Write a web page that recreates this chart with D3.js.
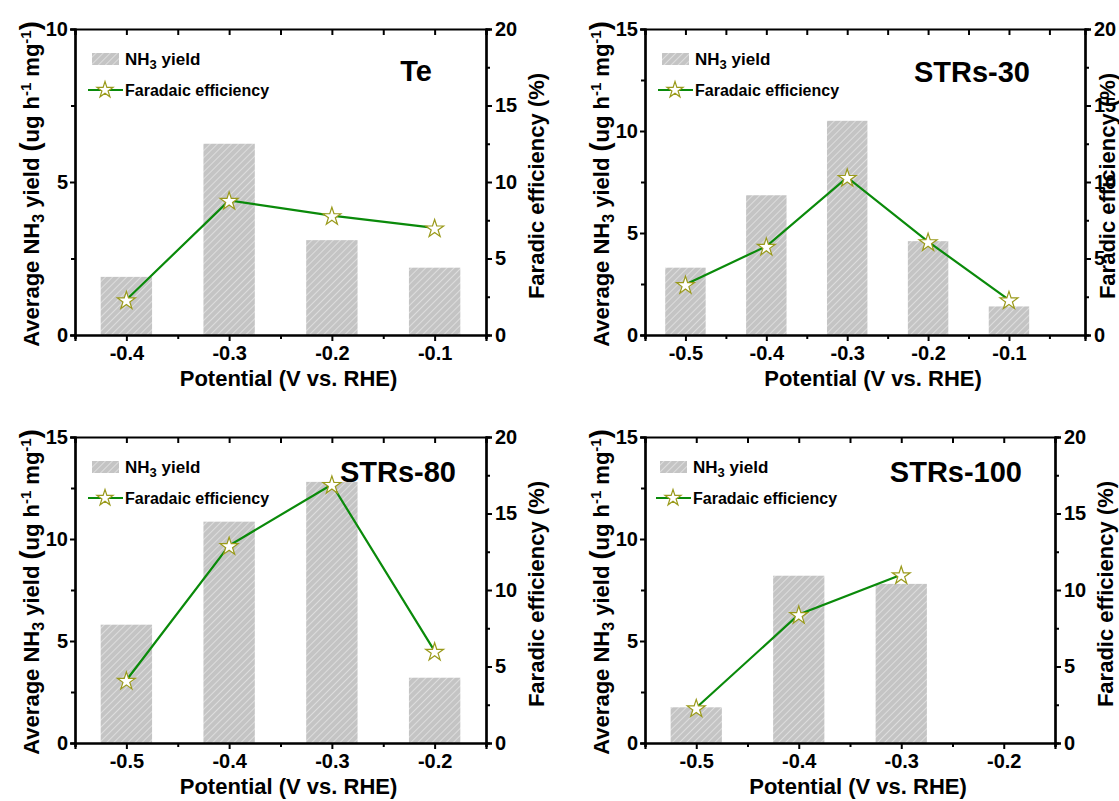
<!DOCTYPE html>
<html>
<head>
<meta charset="utf-8">
<script src="https://cdn.jsdelivr.net/npm/d3@7"></script>
<style>
  body { margin: 0; background: #fff; }
  text { font-family: "Liberation Sans", Arial, sans-serif; font-weight: bold; fill: #000; }
</style>
</head>
<body>
<div id="chart"></div>
<script>
var width = 1119,
    height = 801;

// potentials (V vs. RHE) and values per sample
var teX = [-0.4, -0.3, -0.2, -0.1];
var teYield = [1.9, 6.25, 3.1, 2.2];
var teFE = [2.3, 8.8, 7.8, 7.0];

var s30X = [-0.5, -0.4, -0.3, -0.2, -0.1];
var s30Yield = [3.3, 6.85, 10.5, 4.6, 1.4];
var s30FE = [3.3, 5.8, 10.3, 6.1, 2.3];

var s80X = [-0.5, -0.4, -0.3, -0.2];
var s80Yield = [5.8, 10.85, 12.8, 3.2];
var s80FE = [4.1, 12.9, 16.9, 6.0];

var s100X = [-0.5, -0.4, -0.3];
var s100Yield = [1.75, 8.2, 7.8];
var s100FE = [2.3, 8.4, 11.0];

var teTicks = ["-0.4", "-0.3", "-0.2", "-0.1"];
var s30Ticks = ["-0.5", "-0.4", "-0.3", "-0.2", "-0.1"];
var s80Ticks = ["-0.5", "-0.4", "-0.3", "-0.2"];
var s100Ticks = ["-0.5", "-0.4", "-0.3", "-0.2"];

var panels = [
  {name: "Te", x: teX, yld: teYield, fe: teFE, ticks: teTicks, xDomain: [-0.45, -0.05], yMax: 10, yTicks: [0, 5, 10],
   left: 75, right: 486, top: 29, bottom: 335, titleX: 432, titleY: 81, legX: 92, rTitleX: 544},
  {name: "STRs-30", x: s30X, yld: s30Yield, fe: s30FE, ticks: s30Ticks, xDomain: [-0.55, -0.006], yMax: 15, yTicks: [0, 5, 10, 15],
   left: 645, right: 1085, top: 29, bottom: 335, titleX: 1030, titleY: 82, legX: 662, rTitleX: 1115},
  {name: "STRs-80", x: s80X, yld: s80Yield, fe: s80FE, ticks: s80Ticks, xDomain: [-0.55, -0.15], yMax: 15, yTicks: [0, 5, 10, 15],
   left: 75, right: 486, top: 437, bottom: 743, titleX: 456, titleY: 482, legX: 92, rTitleX: 544},
  {name: "STRs-100", x: s100X, yld: s100Yield, fe: s100FE, ticks: s100Ticks, xDomain: [-0.55, -0.15], yMax: 15, yTicks: [0, 5, 10, 15],
   left: 645, right: 1055, top: 437, bottom: 743, titleX: 1022, titleY: 482, legX: 660, rTitleX: 1113}
];

var svg = d3.select("#chart").append("svg")
    .attr("width", width)
    .attr("height", height);

// hatched grey fill for the bars
var pat = svg.append("defs").append("pattern")
    .attr("id", "hatch")
    .attr("patternUnits", "userSpaceOnUse")
    .attr("width", 5).attr("height", 5)
    .attr("patternTransform", "rotate(45)");
pat.append("rect").attr("width", 5).attr("height", 5).attr("fill", "#c4c4c4");
pat.append("line").attr("x1", 0).attr("y1", 0).attr("x2", 0).attr("y2", 5)
    .attr("stroke", "#efefef").attr("stroke-width", 1.2);

var star = d3.symbol().type(d3.symbolStar).size(100);
var legStar = d3.symbol().type(d3.symbolStar).size(80);

panels.forEach(function(p) {
  var g = svg.append("g");
  var x = d3.scaleLinear().domain(p.xDomain).range([p.left, p.right]);
  var y = d3.scaleLinear().domain([0, p.yMax]).range([p.bottom, p.top]);
  var y2 = d3.scaleLinear().domain([0, 20]).range([p.bottom, p.top]);
  var bw = x(0.05) - x(0);
  var majors = p.ticks.map(Number);
  var minors = d3.range(Math.round(p.xDomain[0] * 100), Math.round(p.xDomain[1] * 100) + 1, 5)
      .map(function(d) { return d / 100; })
      .filter(function(d) { return majors.indexOf(d) < 0 && majors.indexOf(+d.toFixed(2)) < 0; });

  // bars
  g.selectAll("rect.bar").data(p.yld).enter().append("rect")
      .attr("x", function(d, i) { return x(p.x[i]) - bw / 2; })
      .attr("y", function(d) { return y(d); })
      .attr("width", bw)
      .attr("height", function(d) { return p.bottom - y(d); })
      .attr("fill", "url(#hatch)");

  // FE line + stars
  var line = d3.line().x(function(d, i) { return x(p.x[i]); }).y(function(d) { return y2(d); });
  g.append("path").datum(p.fe).attr("d", line)
      .attr("fill", "none").attr("stroke", "#0a8a0a").attr("stroke-width", 2.2);
  g.selectAll("path.star").data(p.fe).enter().append("path")
      .attr("d", star)
      .attr("transform", function(d, i) { return "translate(" + x(p.x[i]) + "," + (y2(d) + 1) + ")"; })
      .attr("fill", "#fff").attr("stroke", "#9a9a1a").attr("stroke-width", 1.2);

  // axes
  var bottomAxis = d3.axisBottom(x).tickValues(majors).tickSize(6).tickPadding(5)
      .tickFormat(function(d, i) { return p.ticks[i]; });
  var ga = g.append("g").attr("transform", "translate(0," + p.bottom + ")").call(bottomAxis);
  ga.append("g").call(d3.axisBottom(x).tickValues(minors).tickSize(4).tickFormat(""));

  var ta = g.append("g").attr("transform", "translate(0," + p.top + ")");
  ta.call(d3.axisBottom(x).tickValues(majors.concat(minors)).tickSize(6).tickFormat(""));

  var la = g.append("g").attr("transform", "translate(" + p.left + ",0)")
      .call(d3.axisLeft(y).tickValues(p.yTicks).tickSize(5).tickPadding(2).tickFormat(d3.format("d")));
  la.append("g").call(d3.axisLeft(y).tickValues(p.yTicks.slice(1).map(function(d) { return d - 2.5; })).tickSize(4).tickFormat(""));

  var ra = g.append("g").attr("transform", "translate(" + p.right + ",0)")
      .call(d3.axisRight(y2).tickValues([0, 5, 10, 15, 20]).tickSize(6).tickPadding(3).tickFormat(d3.format("d")));
  ra.append("g").call(d3.axisRight(y2).tickValues([2.5, 7.5, 12.5, 17.5]).tickSize(4).tickFormat(""));

  g.selectAll(".domain").attr("stroke", "#000").attr("stroke-width", 2.2);
  g.selectAll(".tick line").attr("stroke", "#000").attr("stroke-width", 2);
  g.selectAll(".tick text").style("font-size", "20px").style("font-family", "Liberation Sans, Arial").style("font-weight", "bold");

  // axis titles
  g.append("text")
      .attr("x", (p.left + p.right) / 2 + 8).attr("y", p.bottom + 51)
      .attr("text-anchor", "middle").style("font-size", "22px")
      .text("Potential (V vs. RHE)");

  var yl = g.append("text")
      .attr("transform", "translate(" + (p.left - 36) + "," + ((p.top + p.bottom) / 2 + 2) + ") rotate(-90)")
      .attr("text-anchor", "middle").style("font-size", "22px");
  yl.append("tspan").text("Average NH");
  yl.append("tspan").attr("dy", 5).style("font-size", "16px").text("3");
  yl.append("tspan").attr("dy", -5).text(" yield ");
  yl.append("tspan").style("font-size", "27px").text("(");
  yl.append("tspan").text("ug h");
  yl.append("tspan").attr("dy", -8).style("font-size", "15px").text("-1");
  yl.append("tspan").attr("dy", 8).text(" mg");
  yl.append("tspan").attr("dy", -8).style("font-size", "15px").text("-1");
  yl.append("tspan").attr("dy", 8).style("font-size", "27px").text(")");

  g.append("text")
      .attr("transform", "translate(" + p.rTitleX + "," + ((p.top + p.bottom) / 2 + 4) + ") rotate(-90)")
      .attr("text-anchor", "middle").style("font-size", "22px")
      .text("Faradic efficiency (%)");

  // sample name
  g.append("text").attr("x", p.titleX).attr("y", p.titleY)
      .attr("text-anchor", "end").style("font-size", "29px").text(p.name);

  // legend
  var ly = p.top + 24;
  g.append("rect").attr("x", p.legX).attr("y", ly).attr("width", 27).attr("height", 12)
      .attr("fill", "url(#hatch)");
  var t1 = g.append("text").attr("x", p.legX + 33).attr("y", ly + 12).style("font-size", "17px");
  t1.append("tspan").text("NH");
  t1.append("tspan").attr("dy", 4).style("font-size", "13px").text("3");
  t1.append("tspan").attr("dy", -4).text(" yield");

  var fy = ly + 37;
  g.append("line").attr("x1", p.legX - 4).attr("x2", p.legX + 31).attr("y1", fy).attr("y2", fy)
      .attr("stroke", "#0a8a0a").attr("stroke-width", 2.2);
  g.append("path").attr("d", legStar).attr("transform", "translate(" + (p.legX + 13) + "," + fy + ")")
      .attr("fill", "#fff").attr("stroke", "#9a9a1a").attr("stroke-width", 1.2);
  g.append("text").attr("x", p.legX + 33).attr("y", fy + 6).style("font-size", "16px")
      .text("Faradaic efficiency");
});
</script>
</body>
</html>
